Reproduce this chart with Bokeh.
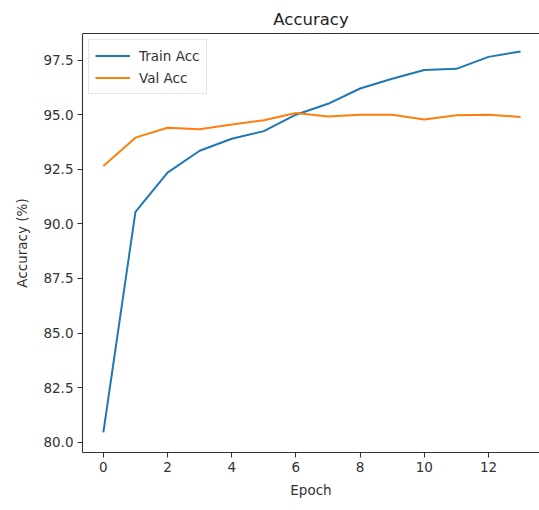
from bokeh.plotting import figure
from bokeh.models import Range1d, FixedTicker, NumeralTickFormatter, LinearAxis, Legend, LegendItem
from bokeh.embed import file_html
from bokeh.resources import INLINE

# Data
epochs = list(range(14))
train_acc = [80.45, 90.55, 92.35, 93.35, 93.9, 94.25, 95.0, 95.5, 96.2, 96.65, 97.05, 97.1, 97.65, 97.9]
val_acc = [92.65, 93.95, 94.4, 94.33, 94.55, 94.75, 95.08, 94.92, 95.0, 95.0, 94.78, 94.98, 95.0, 94.9]

x_ticks = [0, 2, 4, 6, 8, 10, 12]
y_ticks = [80.0, 82.5, 85.0, 87.5, 90.0, 92.5, 95.0, 97.5]

FONT = "DejaVu Sans"
INK = "#333333"
BLUE = "#1f77b4"
ORANGE = "#ff7f0e"

p = figure(width=539, height=510, output_backend="svg", toolbar_location=None,
           x_range=Range1d(-0.65, 13.59), y_range=Range1d(79.53, 98.72),
           min_border_left=82, min_border_right=0, min_border_top=33, min_border_bottom=58,
           title="Accuracy")
p.outline_line_color = None
p.grid.visible = False
p.background_fill_color = "white"
p.border_fill_color = "white"

p.title.align = "center"
p.title.text_font = FONT
p.title.text_font_size = "16.5px"
p.title.text_font_style = "normal"
p.title.text_color = "#222222"

for ax in (p.xaxis[0], p.yaxis[0]):
    ax.axis_line_color = INK
    ax.axis_line_width = 1.1
    ax.major_tick_line_color = INK
    ax.major_tick_line_width = 1.1
    ax.major_tick_out = 5
    ax.major_tick_in = 0
    ax.minor_tick_line_color = None
    ax.major_label_text_font = FONT
    ax.major_label_text_font_size = "13.5px"
    ax.major_label_text_color = INK
    ax.major_label_standoff = 4
    ax.axis_label_text_font = FONT
    ax.axis_label_text_font_size = "13.5px"
    ax.axis_label_text_font_style = "normal"
    ax.axis_label_text_color = INK

p.xaxis[0].ticker = FixedTicker(ticks=x_ticks)
p.yaxis[0].ticker = FixedTicker(ticks=y_ticks)
p.yaxis[0].formatter = NumeralTickFormatter(format="0.0")
p.xaxis[0].axis_label = "Epoch"
p.yaxis[0].axis_label = "Accuracy (%)"
p.xaxis[0].axis_label_standoff = 7
p.yaxis[0].axis_label_standoff = 10

# top border line
top = LinearAxis(ticker=FixedTicker(ticks=[]), major_label_text_font_size="0px",
                 major_tick_line_color=None, minor_tick_line_color=None,
                 axis_line_color=INK, axis_line_width=1.1, major_label_standoff=0)
p.add_layout(top, "above")

r1 = p.line(epochs, train_acc, line_color=BLUE, line_width=2)
r2 = p.line(epochs, val_acc, line_color=ORANGE, line_width=2)

legend = Legend(items=[LegendItem(label="Train Acc", renderers=[r1]),
                       LegendItem(label="Val Acc", renderers=[r2])],
                location="top_left")
legend.margin = 6
legend.padding = 6
legend.spacing = 3
legend.label_height = 19
legend.glyph_height = 19
legend.glyph_width = 35
legend.label_standoff = 9
legend.label_text_font = FONT
legend.label_text_font_size = "13.5px"
legend.label_text_color = INK
legend.border_line_color = "#cccccc"
legend.border_line_width = 1
legend.background_fill_alpha = 0.8
p.add_layout(legend, "center")

open("out.html", "w").write(file_html(p, INLINE))
